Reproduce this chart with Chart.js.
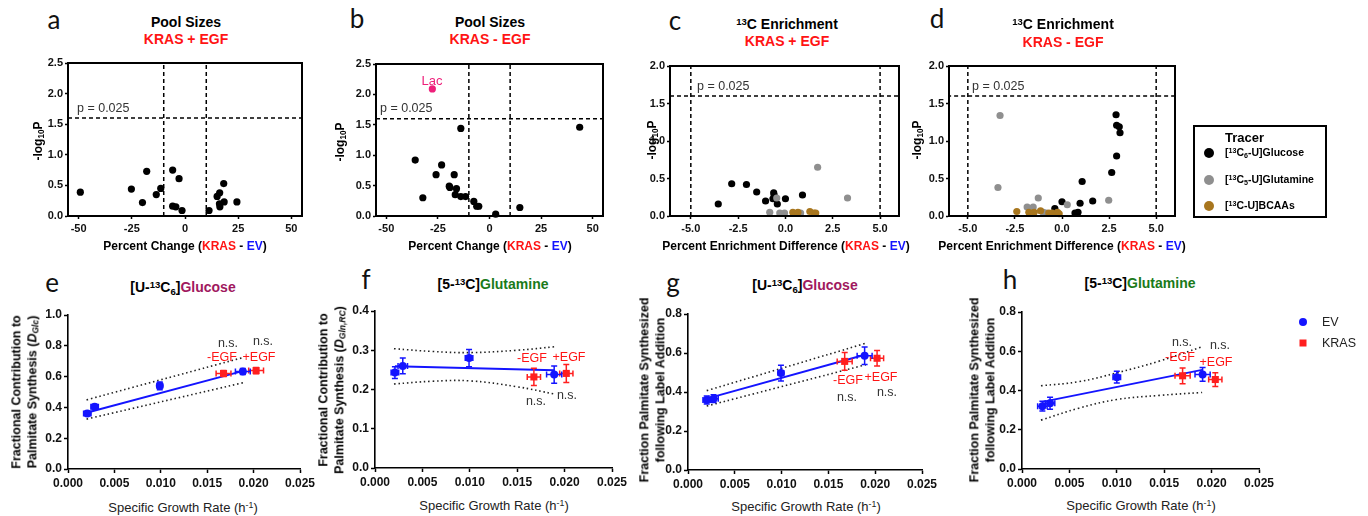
<!DOCTYPE html>
<html>
<head>
<meta charset="utf-8">
<script src="https://cdn.jsdelivr.net/npm/chart.js@4.4.1/dist/chart.umd.min.js"></script>
<style>
body { margin: 0; background: #fff; }
#fig { position: relative; width: 1368px; height: 516px; overflow: hidden; font-family: "Liberation Sans", Arial, sans-serif; color: #000; }
#fig canvas { position: absolute; }
.t { position: absolute; white-space: nowrap; transform: translate(-50%, -50%); line-height: 1; }
.l { position: absolute; white-space: nowrap; transform: translate(0, -50%); line-height: 1; }
.r { position: absolute; white-space: nowrap; transform: translate(-50%, -50%) rotate(-90deg); line-height: 1.25; text-align: center; }
.sup { font-size: 0.68em; position: relative; top: -0.45em; }
.sub { font-size: 0.68em; position: relative; top: 0.3em; }
.letter { font-family: Lato, "Open Sans", sans-serif; font-size: 26px; color: #111; }
.ttl { font-weight: bold; font-size: 14px; }
.red { color: #ff1414; }
.blue { color: #1414ff; }
.ann { font-size: 12.5px; color: #333; }
.legbox { position: absolute; border: 2px solid #000; box-sizing: border-box; }
.dot { position: absolute; border-radius: 50%; transform: translate(-50%, -50%); }
</style>
</head>
<body>
<div id="fig"></div>
<script>
// ---- tick labels ----
const poolXTicks = [-50, -25, 0, 25, 50];
const poolYTicks = [0, 0.5, 1, 1.5, 2, 2.5];
const enrXTicks = [-5, -2.5, 0, 2.5, 5];
const enrYTicks = [0, 0.5, 1, 1.5, 2];
const rateTicks = [0, 0.005, 0.01, 0.015, 0.02, 0.025];
const fracTicksE = [0, 0.2, 0.4, 0.6, 0.8, 1.0];
const fracTicksF = [0, 0.1, 0.2, 0.3, 0.4];
const fracTicksGH = [0, 0.2, 0.4, 0.6, 0.8];

// cut-offs drawn as dashed lines
const poolCut = 10;
const enrCut = 5;
const pCut = 1.6; // -log10(0.025)

// ---- a: pool sizes, KRAS + EGF ----
const aX = [-49.2, -25.2, -20, -18, -13.5, -11.4, -5.8, -5.8, -4.3, -2.8, -1.4, 11.3, 15.1, 16.3, 16.4, 16.2, 18.2, 18.4, 24.4];
const aY = [0.39, 0.44, 0.22, 0.73, 0.35, 0.45, 0.75, 0.16, 0.15, 0.61, 0.09, 0.09, 0.32, 0.38, 0.15, 0.2, 0.53, 0.23, 0.23];

// ---- b: pool sizes, KRAS - EGF ----
const bX = [-36, -32.3, -25.9, -23.2, -19.5, -19.2, -17.1, -16.6, -16, -13.9, -13.9, -11.6, -7.6, -6.2, -5.2, 3, 14.7, 43.7];
const bY = [0.92, 0.30, 0.68, 0.84, 0.49, 0.47, 0.68, 0.35, 0.45, 0.32, 1.44, 0.32, 0.24, 0.16, 0.16, 0.03, 0.14, 1.46];
const lacX = [-27.7];
const lacY = [2.09];

// ---- c: 13C enrichment, KRAS + EGF ----
const cGlcX = [-3.55, -2.84, -2.06, -1.52, -1.05, -0.62, -0.6, -0.66, -0.43, 0, 0.9];
const cGlcY = [0.16, 0.43, 0.42, 0.32, 0.2, 0.31, 0.28, 0.23, 0.16, 0.23, 0.28];
const cGlnX = [-0.46, 1.7, 3.28, -0.83, -0.3, -0.05, 0.8];
const cGlnY = [0.24, 0.65, 0.24, 0.05, 0.04, 0.04, 0.04];
const cBcaaX = [0.39, 0.66, 1.29, 1.51, 1.6];
const cBcaaY = [0.05, 0.05, 0.06, 0.04, 0.04];

// ---- d: 13C enrichment, KRAS - EGF ----
const dGlcX = [2.87, 2.9, 3.04, 3.08, 2.9, 2.64, 1.07, 1.63, 0.96, 0, -0.38, 0.85, 0.69];
const dGlcY = [1.35, 1.21, 1.19, 1.11, 0.8, 0.58, 0.46, 0.2, 0.17, 0.19, 0.1, 0.05, 0.04];
const dGlnX = [-3.29, -3.4, -1.26, -1.85, -1.53, 0.28, 2.48, -1.0, -0.85];
const dGlnY = [1.34, 0.38, 0.24, 0.12, 0.12, 0.15, 0.21, 0.05, 0.04];
const dBcaaX = [-2.4, -1.76, -1.48, -1.14, -0.7, -0.52, -0.24, -0.15];
const dBcaaY = [0.06, 0.05, 0.05, 0.07, 0.04, 0.04, 0.05, 0.03];

// ---- e: glucose contribution ----
const eEvX = [0.00208, 0.00287, 0.00989, 0.01884];
const eEvY = [0.36, 0.404, 0.54, 0.633];
const eEvXErr = [0.0004, 0.0004, 0.0003, 0.0008];
const eEvYErr = [0.015, 0.015, 0.025, 0.02];
const eKrasX = [0.01676, 0.02027];
const eKrasY = [0.62, 0.639];
const eKrasXErr = [0.0008, 0.0008];
const eKrasYErr = [0.02, 0.02];
const eFitX = [0.0021, 0.0189];
const eFitY = [0.367, 0.637];
const eBandX = [0.002, 0.019];
const eUpper = [0.449, 0.726];
const eLower = [0.324, 0.562];

// ---- f: glutamine contribution ----
const fEvX = [0.0021, 0.00293, 0.00992, 0.0189];
const fEvY = [0.243, 0.26, 0.28, 0.238];
const fEvXErr = [0.0004, 0.0005, 0.0004, 0.0008];
const fEvYErr = [0.015, 0.02, 0.022, 0.022];
const fKrasX = [0.01676, 0.02018];
const fKrasY = [0.232, 0.241];
const fKrasXErr = [0.0007, 0.0007];
const fKrasYErr = [0.022, 0.023];
const fFitX = [0.0021, 0.0189];
const fFitY = [0.259, 0.249];
const fBandX = [0.002, 0.006, 0.010, 0.015, 0.019];
const fUpper = [0.304, 0.297, 0.294, 0.300, 0.309];
const fLower = [0.214, 0.221, 0.222, 0.207, 0.188];

// ---- g: glucose, fraction synthesized ----
const gEvX = [0.002, 0.00273, 0.00993, 0.01887];
const gEvY = [0.359, 0.366, 0.497, 0.586];
const gEvXErr = [0.0004, 0.0005, 0.0003, 0.0008];
const gEvYErr = [0.02, 0.02, 0.04, 0.045];
const gKrasX = [0.01674, 0.0202];
const gKrasY = [0.557, 0.573];
const gKrasXErr = [0.0008, 0.0007];
const gKrasYErr = [0.045, 0.04];
const gFitX = [0.002, 0.0189];
const gFitY = [0.366, 0.591];
const gBandX = [0.002, 0.019];
const gUpper = [0.407, 0.65];
const gLower = [0.328, 0.54];

// ---- h: glutamine, fraction synthesized ----
const hEvX = [0.00215, 0.00296, 0.01, 0.01905];
const hEvY = [0.32, 0.335, 0.468, 0.482];
const hEvXErr = [0.0005, 0.0005, 0.0004, 0.0008];
const hEvYErr = [0.025, 0.03, 0.03, 0.035];
const hKrasX = [0.01694, 0.02039];
const hKrasY = [0.475, 0.456];
const hKrasXErr = [0.0008, 0.0007];
const hKrasYErr = [0.04, 0.035];
const hFitX = [0.00215, 0.019];
const hFitY = [0.342, 0.505];
const hBandX = [0.002, 0.006, 0.010, 0.0145, 0.019];
const hUpper = [0.424, 0.445, 0.49, 0.55, 0.623];
const hLower = [0.249, 0.31, 0.354, 0.375, 0.39];

const BLACK = '#000', GRAY = '#8f8f8f', BROWN = '#a8761e', LAC = '#ee1f7a';
const EV_BLUE = '#1414ff', KRAS_RED = '#ff1f1f';

const fig = document.getElementById('fig');
const PAD_L = 40, PAD_R = 24, PAD_T = 10, PAD_B = 24;

const pts = (xs, ys) => xs.map((x, i) => ({ x: x, y: ys[i] }));

function addText(cls, x, y, html, style) {
    const d = document.createElement('div');
    d.className = cls;
    d.style.left = x + 'px';
    d.style.top = y + 'px';
    if (style) d.style.cssText += style;
    d.innerHTML = html;
    fig.appendChild(d);
}

// box round the top plots
const frameBox = {
    id: 'frameBox',
    afterDraw(chart, args, opts) {
        if (!opts.on) return;
        const a = chart.chartArea, c = chart.ctx;
        c.save();
        c.strokeStyle = '#000';
        c.lineWidth = 2;
        c.strokeRect(a.left, a.top, a.right - a.left, a.bottom - a.top);
        c.restore();
    }
};

// x and y error bars, read from dataset.errX / dataset.errY
const errorBars = {
    id: 'errorBars',
    afterDatasetsDraw(chart) {
        const c = chart.ctx, xs = chart.scales.x, ys = chart.scales.y;
        chart.data.datasets.forEach(ds => {
            if (!ds.errY) return;
            c.save();
            c.strokeStyle = ds.backgroundColor;
            c.lineWidth = 1.5;
            ds.data.forEach((p, i) => {
                const px = xs.getPixelForValue(p.x), py = ys.getPixelForValue(p.y);
                const y0 = ys.getPixelForValue(p.y - ds.errY[i]), y1 = ys.getPixelForValue(p.y + ds.errY[i]);
                const x0 = xs.getPixelForValue(p.x - ds.errX[i]), x1 = xs.getPixelForValue(p.x + ds.errX[i]);
                c.beginPath();
                c.moveTo(px, y0); c.lineTo(px, y1);
                c.moveTo(px - 3, y0); c.lineTo(px + 3, y0);
                c.moveTo(px - 3, y1); c.lineTo(px + 3, y1);
                c.moveTo(x0, py); c.lineTo(x1, py);
                c.moveTo(x0, py - 3); c.lineTo(x0, py + 3);
                c.moveTo(x1, py - 3); c.lineTo(x1, py + 3);
                c.stroke();
            });
            c.restore();
        });
    }
};

function makeAxis(s, isX, boxed) {
    return {
        type: 'linear',
        min: s.min,
        max: s.max,
        afterBuildTicks: sc => { sc.ticks = s.ticks.map(v => ({ value: v })); },
        afterFit: sc => { if (isX) sc.height = PAD_B; else sc.width = PAD_L; },
        border: { display: true, color: '#000', width: boxed ? 2 : 1.6 },
        grid: { display: true, drawOnChartArea: false, drawTicks: true, tickLength: boxed ? 3 : 4, tickColor: '#000', tickWidth: 1.5 },
        ticks: {
            color: '#111',
            font: { family: 'Liberation Sans', weight: 'bold', size: boxed ? 11 : 12 },
            padding: isX ? 3 : 2,
            maxRotation: 0,
            autoSkip: false,
            callback: v => Number(v).toFixed(s.dec)
        }
    };
}

function makeChart(rect, datasets, xs, ys, boxed) {
    const [L, T, R, B] = rect;
    const cv = document.createElement('canvas');
    const w = R - L + PAD_L + PAD_R, h = B - T + PAD_T + PAD_B;
    cv.style.left = (L - PAD_L) + 'px';
    cv.style.top = (T - PAD_T) + 'px';
    cv.width = w; cv.height = h;
    cv.style.width = w + 'px'; cv.style.height = h + 'px';
    fig.appendChild(cv);
    new Chart(cv, {
        type: 'scatter',
        data: { datasets: datasets },
        options: {
            responsive: false,
            animation: false,
            devicePixelRatio: 1,
            events: [],
            layout: { padding: { left: 0, top: PAD_T, right: PAD_R, bottom: 0 } },
            plugins: { legend: { display: false }, tooltip: { enabled: false }, frameBox: { on: boxed } },
            scales: { x: makeAxis(xs, true, boxed), y: makeAxis(ys, false, boxed) }
        },
        plugins: [frameBox, errorBars]
    });
}

const dots = (xs, ys, color) => ({ data: pts(xs, ys), backgroundColor: color, borderWidth: 0, pointRadius: 3.6, clip: false });
const dashed = (data) => ({ data: data, showLine: true, borderColor: '#000', borderWidth: 1.5, borderDash: [4, 3], pointRadius: 0 });

// ---- volcano plots ----
const poolX = { min: -55, max: 55, ticks: poolXTicks, dec: 0 };
const poolY = { min: 0, max: 2.5, ticks: poolYTicks, dec: 1 };
const enrX = { min: -6.1, max: 6, ticks: enrXTicks, dec: 1 };
const enrY = { min: 0, max: 2, ticks: enrYTicks, dec: 1 };

function poolCuts() {
    return [
        dashed([{ x: -poolCut, y: poolY.min }, { x: -poolCut, y: poolY.max }]),
        dashed([{ x: poolCut, y: poolY.min }, { x: poolCut, y: poolY.max }]),
        dashed([{ x: poolX.min, y: pCut }, { x: poolX.max, y: pCut }])
    ];
}
function enrCuts() {
    return [
        dashed([{ x: -enrCut, y: enrY.min }, { x: -enrCut, y: enrY.max }]),
        dashed([{ x: enrCut, y: enrY.min }, { x: enrCut, y: enrY.max }]),
        dashed([{ x: enrX.min, y: pCut }, { x: enrX.max, y: pCut }])
    ];
}

makeChart([68, 63, 302, 216], [dots(aX, aY, BLACK)].concat(poolCuts()), poolX, poolY, true);
makeChart([376, 64, 603, 216], [dots(lacX, lacY, LAC), dots(bX, bY, BLACK)].concat(poolCuts()), poolX, poolY, true);
makeChart([670, 66, 899, 216], [dots(cBcaaX, cBcaaY, BROWN), dots(cGlnX, cGlnY, GRAY), dots(cGlcX, cGlcY, BLACK)].concat(enrCuts()), enrX, enrY, true);
makeChart([949, 66, 1175, 216], [dots(dBcaaX, dBcaaY, BROWN), dots(dGlnX, dGlnY, GRAY), dots(dGlcX, dGlcY, BLACK)].concat(enrCuts()), { min: -6, max: 6, ticks: enrXTicks, dec: 1 }, enrY, true);

// ---- growth-rate plots ----
const rateX = { min: 0, max: 0.025, ticks: rateTicks, dec: 3 };

function growthSets(evX, evY, evXE, evYE, krX, krY, krXE, krYE, fitX, fitY, bandX, up, lo) {
    const band = (ys) => ({ data: pts(bandX, ys), showLine: true, borderColor: '#222', borderWidth: 1.6, borderDash: [1.5, 2.8], pointRadius: 0, tension: 0.4 });
    return [
        { data: pts(krX, krY), errX: krXE, errY: krYE, backgroundColor: KRAS_RED, borderWidth: 0, pointStyle: 'rect', pointRadius: 5, clip: false },
        { data: pts(evX, evY), errX: evXE, errY: evYE, backgroundColor: EV_BLUE, borderWidth: 0, pointStyle: 'circle', pointRadius: 4, clip: false },
        { data: pts(fitX, fitY), showLine: true, borderColor: EV_BLUE, borderWidth: 2, pointRadius: 0 },
        band(up),
        band(lo)
    ];
}

makeChart([68, 315, 300, 469], growthSets(eEvX, eEvY, eEvXErr, eEvYErr, eKrasX, eKrasY, eKrasXErr, eKrasYErr, eFitX, eFitY, eBandX, eUpper, eLower),
    rateX, { min: 0, max: 1.0, ticks: fracTicksE, dec: 1 }, false);
makeChart([375, 311, 612, 468], growthSets(fEvX, fEvY, fEvXErr, fEvYErr, fKrasX, fKrasY, fKrasXErr, fKrasYErr, fFitX, fFitY, fBandX, fUpper, fLower),
    rateX, { min: 0, max: 0.4, ticks: fracTicksF, dec: 1 }, false);
makeChart([688, 314, 922, 470], growthSets(gEvX, gEvY, gEvXErr, gEvYErr, gKrasX, gKrasY, gKrasXErr, gKrasYErr, gFitX, gFitY, gBandX, gUpper, gLower),
    rateX, { min: 0, max: 0.8, ticks: fracTicksGH, dec: 1 }, false);
makeChart([1022, 312, 1259, 469], growthSets(hEvX, hEvY, hEvXErr, hEvYErr, hKrasX, hKrasY, hKrasXErr, hKrasYErr, hFitX, hFitY, hBandX, hUpper, hLower),
    rateX, { min: 0, max: 0.8, ticks: fracTicksGH, dec: 1 }, false);

// ---- panel letters ----
addText('t letter', 54, 19, 'a');
addText('t letter', 357, 18, 'b');
addText('t letter', 675, 20, 'c');
addText('t letter', 937, 18, 'd');
addText('t letter', 52, 282, 'e');
addText('t letter', 366, 279, 'f');
addText('t letter', 673, 282, 'g');
addText('t letter', 1010, 279, 'h');

// ---- top titles ----
addText('t ttl', 186, 22, 'Pool Sizes');
addText('t ttl red', 186, 39, 'KRAS + EGF');
addText('t ttl', 490, 22, 'Pool Sizes');
addText('t ttl red', 490, 39, 'KRAS - EGF');
addText('t ttl', 787, 24, '<span class="sup">13</span>C Enrichment');
addText('t ttl red', 787, 41, 'KRAS + EGF');
addText('t ttl', 1063, 24, '<span class="sup">13</span>C Enrichment');
addText('t ttl red', 1063, 42, 'KRAS - EGF');

const logP = '-log<span class="sub">10</span>P';
addText('r', 38, 141, logP, 'font-weight:bold;font-size:12px;');
addText('r', 340, 142, logP, 'font-weight:bold;font-size:12px;');
addText('r', 652, 140, logP, 'font-weight:bold;font-size:12px;');
addText('r', 917, 140, logP, 'font-weight:bold;font-size:12px;');

const pcTitle = 'Percent Change (<span class="red">KRAS</span> - <span class="blue">EV</span>)';
const peTitle = 'Percent Enrichment Difference (<span class="red">KRAS</span> - <span class="blue">EV</span>)';
addText('t', 185, 246, pcTitle, 'font-weight:bold;font-size:12px;');
addText('t', 490, 246, pcTitle, 'font-weight:bold;font-size:12px;');
addText('t', 786, 246, peTitle, 'font-weight:bold;font-size:12px;');
addText('t', 1062, 246, peTitle, 'font-weight:bold;font-size:12px;');

addText('l ann', 77, 108, 'p = 0.025');
addText('l ann', 380, 108, 'p = 0.025');
addText('l ann', 697, 86, 'p = 0.025');
addText('l ann', 972, 86, 'p = 0.025');
addText('t', 432, 80, 'Lac', 'font-size:13px;color:' + LAC + ';');

// ---- tracer legend ----
const fg = document.createElement('div');
fg.className = 'legbox';
fg.style.cssText += 'left:1193px;top:125px;width:134px;height:93px;';
fig.appendChild(fg);
addText('l', 1225, 137, 'Tracer', 'font-weight:bold;font-size:13px;');
[[153, BLACK, '[<span class="sup">13</span>C<span class="sub">6</span>-U]Glucose'],
 [180, GRAY, '[<span class="sup">13</span>C<span class="sub">5</span>-U]Glutamine'],
 [206, BROWN, '[<span class="sup">13</span>C-U]BCAAs']].forEach(([y, col, txt]) => {
    const d = document.createElement('div');
    d.className = 'dot';
    d.style.cssText += `left:1209px;top:${y}px;width:10px;height:10px;background:${col};`;
    fig.appendChild(d);
    addText('l', 1225, y, txt, 'font-weight:bold;font-size:10.5px;');
});

// ---- bottom titles ----
const glcTitle = '[U-<span class="sup">13</span>C<span class="sub">6</span>]<span style="color:#a0185e">Glucose</span>';
const glnTitle = '[5-<span class="sup">13</span>C]<span style="color:#1a7a1a">Glutamine</span>';
addText('t ttl', 183, 287, glcTitle);
addText('t ttl', 493, 284, glnTitle);
addText('t ttl', 805, 285, glcTitle);
addText('t ttl', 1140, 283, glnTitle);

const yStyle = 'font-weight:bold;font-size:12.5px;';
addText('r', 25, 392, 'Fractional Contribution to<br>Palmitate Synthesis (<i>D<span class="sub">Glc</span></i>)', yStyle);
addText('r', 332, 390, 'Fractional Contribution to<br>Palmitate Synthesis (<i>D<span class="sub">Gln,RC</span></i>)', yStyle);
addText('r', 653, 390, 'Fraction Palmitate Synthesized<br>following Label Addition', yStyle);
addText('r', 983, 390, 'Fraction Palmitate Synthesized<br>following Label Addition', yStyle);

const rateTitle = 'Specific Growth Rate (h<span class="sup">-1</span>)';
addText('t', 183, 507, rateTitle, 'font-size:13px;color:#222;');
addText('t', 494, 505, rateTitle, 'font-size:13px;color:#222;');
addText('t', 806, 506, rateTitle, 'font-size:13px;color:#222;');
addText('t', 1141, 505, rateTitle, 'font-size:13px;color:#222;');

// ---- n.s. / EGF labels ----
const nsL = (x, y) => addText('t ann', x, y, 'n.s.');
const egf = (x, y, s) => addText('t', x, y, s, 'font-size:12.5px;color:#ff1414;');
nsL(228, 343); nsL(263, 341); egf(222, 357, '-EGF'); egf(259, 357, '+EGF');
egf(532, 358, '-EGF'); egf(569, 357, '+EGF'); nsL(536, 401); nsL(567, 395);
egf(848, 380, '-EGF'); egf(881, 377, '+EGF'); nsL(847, 397); nsL(887, 392);
nsL(1182, 342); egf(1180, 357, '-EGF'); nsL(1220, 345); egf(1216, 362, '+EGF');

// ---- EV / KRAS legend ----
const evDot = document.createElement('div');
evDot.className = 'dot';
evDot.style.cssText += 'left:1303px;top:322px;width:8px;height:8px;background:' + EV_BLUE + ';';
fig.appendChild(evDot);
const krSq = document.createElement('div');
krSq.className = 'dot';
krSq.style.cssText += 'left:1303px;top:343px;width:7px;height:7px;border-radius:0;background:' + KRAS_RED + ';';
fig.appendChild(krSq);
addText('l', 1322, 322, 'EV', 'font-size:12.5px;color:#222;');
addText('l', 1322, 343, 'KRAS', 'font-size:12.5px;color:#222;');
</script>
</body>
</html>
